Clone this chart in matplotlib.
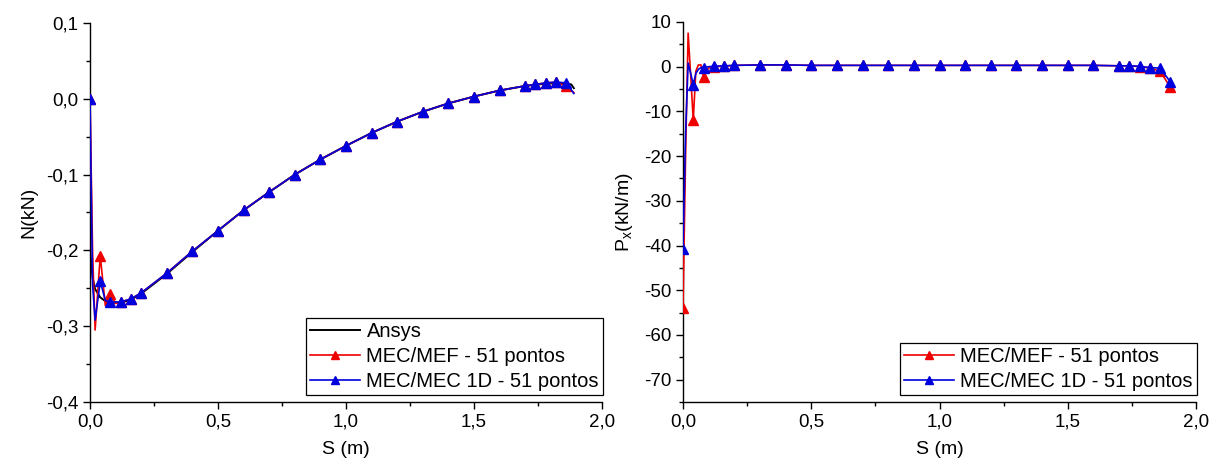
# ============================================================
# N(kN) and Px(kN/m) along S - Ansys vs MEC/MEF vs MEC/MEC 1D
# ============================================================

import matplotlib
matplotlib.use("Agg")
import matplotlib.pyplot as plt
from matplotlib.ticker import MultipleLocator, FuncFormatter

plt.rcParams['font.family'] = ['Liberation Sans', 'DejaVu Sans']
plt.rcParams['mathtext.fontset'] = 'custom'
plt.rcParams['mathtext.rm'] = 'Liberation Sans'

# ============================================================
# Data - left panel (normal force N)
# ============================================================

s_ansys = [0.0, 0.01, 0.02, 0.04, 0.06, 0.08, 0.12, 0.16, 0.2, 0.3, 0.4,
           0.5, 0.6, 0.7, 0.8, 0.9, 1.0, 1.1, 1.2, 1.3, 1.4, 1.5, 1.6,
           1.7, 1.78, 1.84, 1.88, 1.89]
n_ansys = [-0.200, -0.236, -0.251, -0.262, -0.267, -0.269, -0.269, -0.265,
           -0.257, -0.231, -0.202, -0.174, -0.147, -0.123, -0.100, -0.080,
           -0.062, -0.045, -0.030, -0.017, -0.006, 0.003, 0.011, 0.017,
           0.020, 0.021, 0.019, 0.014]

s_n = [0.0, 0.01, 0.02, 0.04, 0.06, 0.08, 0.10, 0.12, 0.16, 0.2, 0.3, 0.4,
       0.5, 0.6, 0.7, 0.8, 0.9, 1.0, 1.1, 1.2, 1.3, 1.4, 1.5, 1.6, 1.7,
       1.74, 1.78, 1.82, 1.86, 1.89]
n_mef = [0.000, -0.200, -0.305, -0.207, -0.273, -0.257, -0.270, -0.268,
         -0.264, -0.256, -0.230, -0.201, -0.174, -0.147, -0.123, -0.100,
         -0.080, -0.062, -0.045, -0.030, -0.017, -0.006, 0.003, 0.011,
         0.017, 0.019, 0.021, 0.022, 0.017, 0.008]
n_mec = [0.000, -0.245, -0.292, -0.241, -0.266, -0.268, -0.268, -0.268,
         -0.264, -0.256, -0.230, -0.201, -0.174, -0.147, -0.123, -0.100,
         -0.080, -0.062, -0.045, -0.030, -0.017, -0.006, 0.003, 0.011,
         0.017, 0.019, 0.021, 0.022, 0.021, 0.007]
# points without symbol: 0.01, 0.02, 0.06, 0.10, 1.89
n_marks = [0, 3, 5, 7] + list(range(8, 29))

# ============================================================
# Data - right panel (Px)
# ============================================================

s_px = [0.0, 0.01, 0.02, 0.03, 0.04, 0.05, 0.06, 0.07, 0.08, 0.10, 0.12,
        0.16, 0.2, 0.3, 0.4, 0.5, 0.6, 0.7, 0.8, 0.9, 1.0, 1.1, 1.2, 1.3,
        1.4, 1.5, 1.6, 1.7, 1.74, 1.78, 1.82, 1.86, 1.90]
px_mef = [-54.0, -20.0, 7.5, -2.0, -12.0, -1.0, 0.4, 0.4, -2.3, -0.3, 0.0,
          0.1, 0.3, 0.4, 0.4, 0.3, 0.3, 0.3, 0.3, 0.3, 0.3, 0.3, 0.3, 0.3,
          0.3, 0.3, 0.3, 0.2, 0.2, 0.0, -0.3, -1.0, -4.6]
px_mec = [-40.8, -15.0, 0.8, -1.5, -4.0, -1.5, -0.6, -0.2, -0.2, 0.0, 0.1,
          0.2, 0.3, 0.4, 0.4, 0.3, 0.3, 0.3, 0.3, 0.3, 0.3, 0.3, 0.3, 0.3,
          0.3, 0.3, 0.3, 0.2, 0.2, 0.1, -0.2, -0.3, -3.4]
px_marks = [0, 4, 8] + list(range(10, 33))

RED = '#ee0000'
BLUE = '#0000dd'

# ============================================================
# Figure
# ============================================================

fig = plt.figure(figsize=(12.12, 4.69), dpi=100)

ax1 = fig.add_axes([90 / 1212, 1 - 402 / 469, 512 / 1212, 379 / 469])
ax2 = fig.add_axes([683 / 1212, 1 - 402 / 469, 513 / 1212, 380 / 469])

comma = FuncFormatter(lambda v, p: f"{v:.1f}".replace('.', ','))
intfmt = FuncFormatter(lambda v, p: f"{v:.0f}")

# ---------------- left panel ----------------
ax1.plot(s_ansys, n_ansys, color='black', lw=1.4, label='Ansys', zorder=2)
ax1.plot(s_n, n_mef, color=RED, lw=1.2, marker='^', ms=7.5,
         markevery=n_marks, label='MEC/MEF - 51 pontos', zorder=3)
ax1.plot(s_n, n_mec, color=BLUE, lw=1.2, marker='^', ms=7.5,
         markevery=n_marks, label='MEC/MEC 1D - 51 pontos', zorder=4)

ax1.set_xlim(0, 2.0)
ax1.set_ylim(-0.4, 0.1)
ax1.xaxis.set_major_locator(MultipleLocator(0.5))
ax1.xaxis.set_minor_locator(MultipleLocator(0.25))
ax1.yaxis.set_major_locator(MultipleLocator(0.1))
ax1.yaxis.set_minor_locator(MultipleLocator(0.05))
ax1.xaxis.set_major_formatter(comma)
ax1.yaxis.set_major_formatter(comma)
ax1.set_xlabel('S (m)', fontsize=14, labelpad=7)
ax1.set_ylabel('N(kN)', fontsize=14, labelpad=6)

# ---------------- right panel ----------------
ax2.plot(s_px, px_mef, color=RED, lw=1.2, marker='^', ms=7.5,
         markevery=px_marks, label='MEC/MEF - 51 pontos', zorder=3)
ax2.plot(s_px, px_mec, color=BLUE, lw=1.2, marker='^', ms=7.5,
         markevery=px_marks, label='MEC/MEC 1D - 51 pontos', zorder=4)

ax2.set_xlim(0, 2.0)
ax2.set_ylim(-75, 10)
ax2.xaxis.set_major_locator(MultipleLocator(0.5))
ax2.xaxis.set_minor_locator(MultipleLocator(0.25))
ax2.yaxis.set_major_locator(MultipleLocator(10))
ax2.yaxis.set_minor_locator(MultipleLocator(5))
ax2.xaxis.set_major_formatter(comma)
ax2.yaxis.set_major_formatter(intfmt)
ax2.set_xlabel('S (m)', fontsize=14, labelpad=7)
ax2.set_ylabel(r'P$_\mathregular{x}$(kN/m)', fontsize=14, labelpad=6)

# ---------------- common styling ----------------
for ax in (ax1, ax2):
    ax.spines['top'].set_visible(False)
    ax.spines['right'].set_visible(False)
    ax.spines['left'].set_linewidth(1.0)
    ax.spines['bottom'].set_linewidth(1.0)
    ax.tick_params(which='major', direction='out', length=5, width=1,
                   labelsize=13.5)
    ax.tick_params(which='minor', direction='out', length=3, width=1)
    leg = ax.legend(loc='lower right', bbox_to_anchor=(1.002, 0.018),
                    borderaxespad=0, fontsize=14.5, frameon=True,
                    fancybox=False, edgecolor='black', framealpha=1,
                    handlelength=2.5, handletextpad=0.3, labelspacing=0.3,
                    borderpad=0.2, markerscale=0.8)
    leg.get_frame().set_linewidth(0.9)

fig.savefig("out.png", dpi=100)
